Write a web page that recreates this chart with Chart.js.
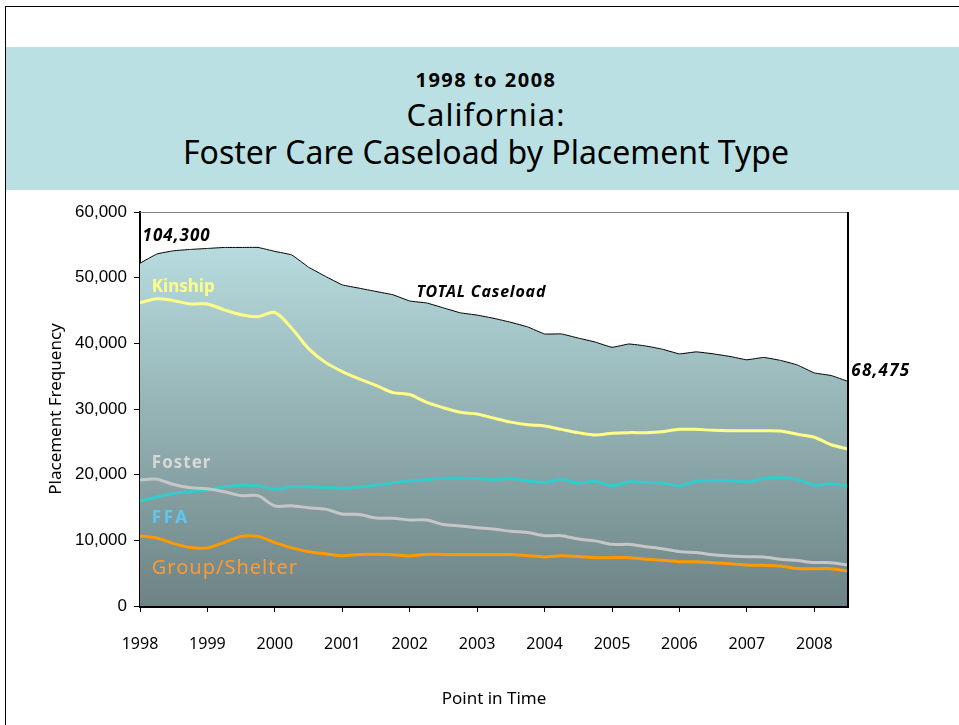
<!DOCTYPE html>
<html>
<head>
<meta charset="utf-8">
<script src="https://cdn.jsdelivr.net/npm/chart.js@4.4.1/dist/chart.umd.min.js"></script>
<style>
  html, body { margin: 0; padding: 0; background: #fff; }
  body { width: 959px; height: 725px; position: relative; overflow: hidden; }
  #frame { position: absolute; left: 5px; top: 6px; width: 960px; height: 730px;
           border-top: 1px solid #000; border-left: 1px solid #000; }
  #band { position: absolute; left: 6px; top: 47px; width: 953px; height: 143px; background: #bbe0e3; }
  .t { position: absolute; left: 0px; width: 972px; text-align: center; color: #000;
       font-family: "Comic Sans MS", "Noto Sans", sans-serif; white-space: nowrap; }
  #t1 { top: 66px; font-size: 20px; font-weight: bold; line-height: 28px; letter-spacing: 1.5px; }
  #t2 { top: 94px; font-size: 31px; line-height: 40px; letter-spacing: 1px; }
  #t3 { top: 131px; font-size: 32px; line-height: 42px; letter-spacing: 0px; }
  #wrap { position: absolute; left: 0; top: 0; width: 959px; height: 725px; }
</style>
</head>
<body>
<div id="frame"></div>
<div id="band"></div>
<div class="t" id="t1">1998 to 2008</div>
<div class="t" id="t2">California:</div>
<div class="t" id="t3">Foster Care Caseload by Placement Type</div>
<div id="wrap"><canvas id="c" width="959" height="725"></canvas></div>
<script>
// Quarterly points, 1998 Q1 .. 2008 Q3
const quarters = [];
for (let y = 1998; y <= 2008; y++) for (let q = 1; q <= 4; q++) quarters.push(y + ' Q' + q);
quarters.length = 43;

const yearTicks = ['1998','1999','2000','2001','2002','2003','2004','2005','2006','2007','2008'];

const totalCaseload = [52200,53600,54100,54300,54450,54600,54600,54600,54000,53460,
  51600,50200,48900,48400,47900,47400,46450,46150,45400,44650,
  44300,43800,43200,42500,41430,41430,40800,40200,39400,39900,
  39600,39100,38400,38700,38400,38000,37500,37850,37400,36700,
  35500,35100,34200];

const kinship = [46200,46800,46500,46000,46000,45100,44350,44060,44700,42300,
  39200,37100,35700,34600,33600,32500,32200,31000,30200,29500,
  29250,28600,28000,27600,27400,26900,26400,26050,26300,26400,
  26400,26550,26900,26900,26750,26700,26700,26700,26650,26150,
  25700,24550,23900];

const ffa = [16000,16600,17150,17400,17700,18150,18400,18300,17800,18150,
  18170,18050,17950,18150,18400,18750,19040,19250,19450,19450,
  19400,19250,19400,19050,18780,19300,18690,19000,18300,18900,
  18800,18700,18320,19000,19080,19080,18880,19400,19550,19250,
  18400,18630,18280];

const foster = [19190,19300,18500,18000,17850,17400,16800,16800,15230,15280,
  14950,14750,14000,13950,13400,13350,13100,13100,12400,12190,
  11930,11720,11380,11200,10710,10710,10200,9920,9390,9390,
  9030,8720,8280,8130,7800,7600,7510,7480,7130,6920,
  6620,6600,6250];

const groupShelter = [10660,10350,9500,8900,8850,9700,10600,10600,9650,8850,
  8270,7950,7650,7850,7870,7820,7620,7870,7850,7850,
  7850,7850,7850,7670,7480,7670,7550,7360,7360,7360,
  7130,6950,6750,6750,6600,6450,6260,6200,6100,5700,
  5680,5680,5330];

const yTicks = [0, 10000, 20000, 30000, 40000, 50000, 60000];

const COMIC = '"Comic Sans MS", "Noto Sans", sans-serif';

function pts(arr) { return arr.map((v, i) => ({ x: i, y: v })); }

// text notes anchored in data space
const notes = [
  { text: '104,300', x: 0.15, y: 56350, color: '#000', font: 'italic bold 17px ' + COMIC, ls: '1px' },
  { text: 'TOTAL Caseload', x: 16.4, y: 47700, color: '#000', font: 'italic bold 16px ' + COMIC, ls: '0.8px' },
  { text: '68,475', x: 42.2, y: 35700, color: '#000', font: 'italic bold 17px ' + COMIC, ls: '1.2px' },
  { text: 'Kinship', x: 0.7, y: 48600, color: '#ffff88', font: 'bold 17px ' + COMIC, ls: '0px' },
  { text: 'Foster', x: 0.7, y: 21800, color: '#d8d8d8', font: 'bold 17px ' + COMIC, ls: '1px' },
  { text: 'FFA', x: 0.7, y: 13400, color: '#5cc8f2', font: 'bold 17px ' + COMIC, ls: '2.5px' },
  { text: 'Group/Shelter', x: 0.7, y: 5800, color: '#ff9933', font: '20px ' + COMIC, ls: '1px' }
];

const notesPlugin = {
  id: 'notes',
  afterDatasetsDraw(chart) {
    const { ctx, scales } = chart;
    ctx.save();
    ctx.textAlign = 'left';
    ctx.textBaseline = 'middle';
    notes.forEach(n => {
      ctx.font = n.font;
      ctx.fillStyle = n.color;
      if ('letterSpacing' in ctx) ctx.letterSpacing = n.ls;
      ctx.fillText(n.text, scales.x.getPixelForValue(n.x), scales.y.getPixelForValue(n.y));
    });
    ctx.restore();
  }
};

const framePlugin = {
  id: 'frame',
  afterDraw(chart) {
    const { ctx, chartArea: a } = chart;
    ctx.save();
    ctx.strokeStyle = '#808080';
    ctx.lineWidth = 1;
    ctx.beginPath();
    ctx.moveTo(a.left, a.top + 0.5);
    ctx.lineTo(a.right, a.top + 0.5);
    ctx.stroke();
    ctx.strokeStyle = '#000';
    ctx.lineWidth = 2;
    ctx.beginPath();
    ctx.moveTo(a.right, a.top);
    ctx.lineTo(a.right, a.bottom);
    ctx.stroke();
    ctx.restore();
  }
};

function areaGradient(context) {
  const { chart } = context;
  const a = chart.chartArea;
  if (!a) return '#a8cfd2';
  const g = chart.ctx.createLinearGradient(0, a.top, 0, a.bottom);
  g.addColorStop(0, '#bee4e7');
  g.addColorStop(1, '#6d8385');
  return g;
}

new Chart(document.getElementById('c'), {
  type: 'line',
  data: {
    datasets: [
      { label: 'TOTAL Caseload', data: pts(totalCaseload), borderColor: '#000', borderWidth: 1,
        backgroundColor: areaGradient, fill: 'origin', tension: 0.1, order: 10 },
      { label: 'Kinship', data: pts(kinship), borderColor: '#ffff88', borderWidth: 3,
        fill: false, tension: 0.3, order: 5 },
      { label: 'FFA', data: pts(ffa), borderColor: '#33cccc', borderWidth: 3,
        fill: false, tension: 0.3, order: 4 },
      { label: 'Foster', data: pts(foster), borderColor: '#c6c6c6', borderWidth: 3,
        fill: false, tension: 0.3, order: 3 },
      { label: 'Group/Shelter', data: pts(groupShelter), borderColor: '#ff9900', borderWidth: 3,
        fill: false, tension: 0.3, order: 2 }
    ]
  },
  options: {
    responsive: false,
    animation: false,
    devicePixelRatio: 1,
    elements: { point: { radius: 0, hoverRadius: 0 } },
    layout: { padding: { top: 212, right: 111, left: 0, bottom: 0 } },
    plugins: { legend: { display: false }, tooltip: { enabled: false }, title: { display: false } },
    scales: {
      x: {
        type: 'linear', min: 0, max: quarters.length - 1,
        afterFit(s) { s.height = 119; },
        grid: { drawOnChartArea: false, drawTicks: true, tickLength: 6, color: '#000', lineWidth: 1 },
        border: { display: true, color: '#000', width: 3 },
        ticks: {
          stepSize: 4, includeBounds: false, autoSkip: false, maxRotation: 0, padding: 23,
          color: '#000', font: { family: COMIC, size: 16 },
          callback: (v) => (v % 4 === 0 ? yearTicks[v / 4] : '')
        },
        title: { display: true, text: 'Point in Time', color: '#000',
                 font: { family: COMIC, size: 17 }, padding: { top: 0, bottom: 16 } }
      },
      y: {
        min: 0, max: 60000,
        afterFit(s) { s.width = 140; },
        afterBuildTicks(s) { s.ticks = yTicks.map(v => ({ value: v })); },
        grid: { drawOnChartArea: false, drawTicks: true, tickLength: 6, color: '#000', lineWidth: 1 },
        border: { display: true, color: '#000', width: 2 },
        ticks: {
          padding: 7, color: '#000', font: { family: '"Liberation Sans", Arial, sans-serif', size: 17 },
          callback: (v) => Number(v).toLocaleString('en-US')
        },
        title: { display: true, text: 'Placement Frequency', color: '#000',
                 font: { family: COMIC, size: 17 }, padding: { top: 46, bottom: 0 } }
      }
    }
  },
  plugins: [notesPlugin, framePlugin]
});
</script>
</body>
</html>
